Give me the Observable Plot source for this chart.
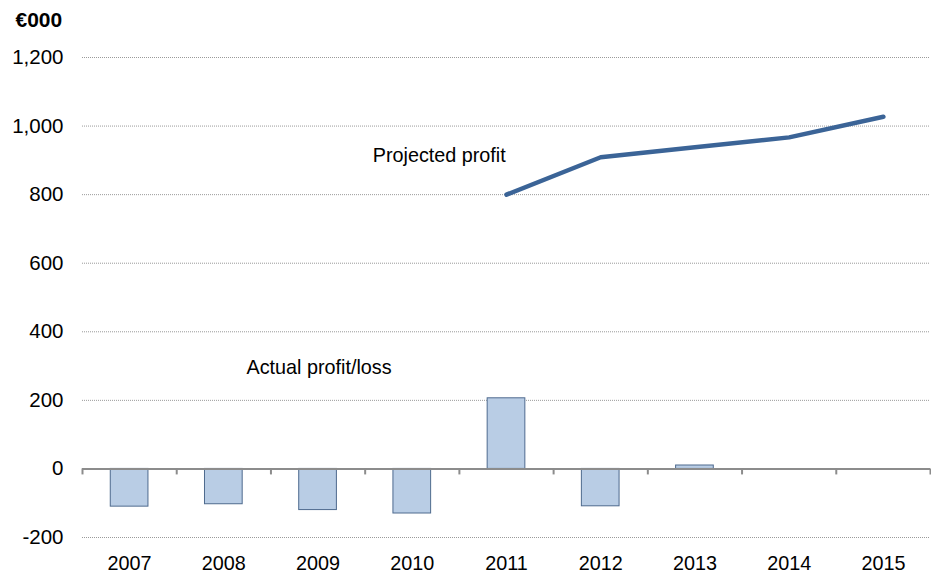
<!DOCTYPE html>
<html>
<head>
<meta charset="utf-8">
<script src="https://cdn.jsdelivr.net/npm/d3@7"></script>
<script src="https://cdn.jsdelivr.net/npm/@observablehq/plot@0.6"></script>
<style>
  html, body { margin: 0; padding: 0; background: #fff; }
  #chart svg { display: block; }
</style>
</head>
<body>
<div id="chart"></div>
<script>
const years = [2007, 2008, 2009, 2010, 2011, 2012, 2013, 2014, 2015];
const actualYears = [2007, 2008, 2009, 2010, 2011, 2012, 2013];
const actualValues = [-110, -103, -120, -130, 206, -109, 10];
const projectedYears = [2011, 2012, 2013, 2014, 2015];
const projectedValues = [800, 909, 938, 967, 1027];
const yTicks = [-200, 0, 200, 400, 600, 800, 1000, 1200];
const unitLabel = "€000";
const labelTexts = ["Projected profit", "Actual profit/loss"];
const labelYears = [2009.58, 2008.24];
const labelValues = [913, 295];

const actual = actualYears.map((year, i) => ({year, value: actualValues[i]}));
const projected = projectedYears.map((year, i) => ({year, value: projectedValues[i]}));
const labels = labelTexts.map((text, i) => ({text, x: labelYears[i], y: labelValues[i]}));
const boundaries = years.map(y => y - 0.5).concat([years[years.length - 1] + 0.5]);

const FS = 19.8;
const chart = Plot.plot({
  width: 931,
  height: 575,
  marginTop: 57,
  marginBottom: 38,
  marginLeft: 82,
  marginRight: 1,
  style: {fontFamily: "'Liberation Sans', Arial, sans-serif", fontSize: FS + "px", color: "#000", background: "#fff"},
  x: {type: "linear", domain: [years[0] - 0.5, years[years.length - 1] + 0.5]},
  y: {domain: [yTicks[0], yTicks[yTicks.length - 1]]},
  marks: [
    Plot.ruleY(yTicks.filter(d => d !== 0), {y: d => d, stroke: "#9a9a9a", strokeDasharray: "1,1", strokeWidth: 1}),
    Plot.rect(actual, {x1: d => d.year - 0.2, x2: d => d.year + 0.2, y1: 0, y2: d => d.value, fill: "#b9cde5", stroke: "#4e6a8e", strokeWidth: 1}),
    Plot.ruleY([0], {stroke: "#8c8c8c", strokeWidth: 2}),
    Plot.ruleX(boundaries, {x: d => d, y1: 0, y2: 0, insetBottom: -6, stroke: "#8c8c8c", strokeWidth: 2}),
    Plot.line(projected, {x: "year", y: "value", stroke: "#3b6497", strokeWidth: 4.5, strokeLinecap: "round", strokeLinejoin: "round"}),
    Plot.text(labels, {x: "x", y: "y", text: "text", textAnchor: "start", lineAnchor: "middle", fontSize: FS, fill: "#000"}),
    Plot.text([unitLabel], {frameAnchor: "top-left", dx: -67, dy: -37, textAnchor: "start", lineAnchor: "middle", fontWeight: "bold", fontSize: 21, fill: "#000"}),
    Plot.axisY({ticks: yTicks, tickSize: 0, tickPadding: 19, tickFormat: d => d.toLocaleString("en-US"), label: null, fontSize: 20.5}),
    Plot.axisX({ticks: years, tickSize: 0, tickPadding: 18, tickFormat: d => String(d), label: null, fontSize: FS})
  ]
});
document.getElementById("chart").appendChild(chart);
</script>
</body>
</html>
